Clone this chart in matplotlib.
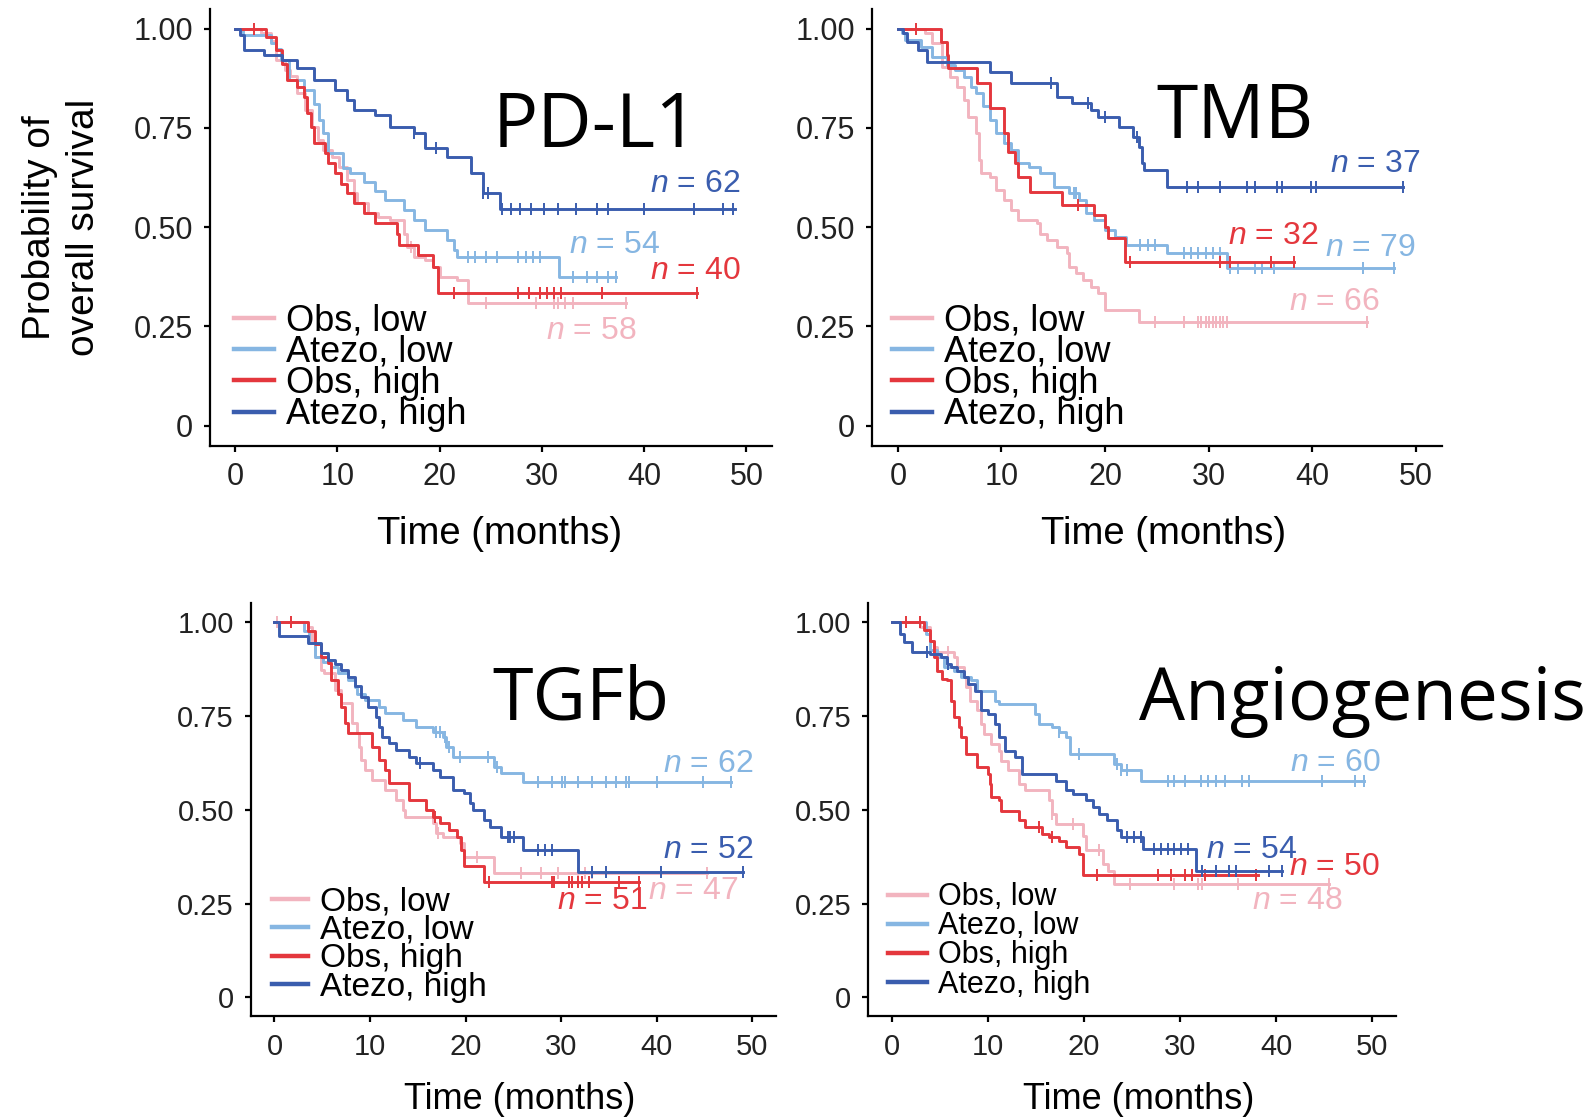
import numpy as np
import matplotlib
matplotlib.use("Agg")
import matplotlib.pyplot as plt
from matplotlib.lines import Line2D

plt.rcParams["font.family"] = ["Liberation Sans", "DejaVu Sans"]
plt.rcParams["mathtext.fontset"] = "custom"
plt.rcParams["mathtext.it"] = "Liberation Sans:italic"
plt.rcParams["mathtext.rm"] = "Liberation Sans"

groups = ["Obs, low", "Atezo, low", "Obs, high", "Atezo, high"]
colors = ["#F2B4BF", "#86B6E2", "#E4373D", "#3A5DAE"]
titles = ["PD-L1", "TMB", "TGFb", "Angiogenesis"]
x_ticks = [0, 10, 20, 30, 40, 50]
y_ticks = [0, 0.25, 0.5, 0.75, 1.0]
y_tick_labels = ["0", "0.25", "0.50", "0.75", "1.00"]

# ---------------- PD-L1 ----------------
pdl1_n = [58, 54, 40, 62]
pdl1_obs_low_t = [0, 2.5, 3.5, 4.0, 4.9, 5.4, 6.0, 6.8, 7.5, 8.1, 8.6, 9.5, 10.2, 10.9, 11.6, 11.9, 13.0, 14.0,
                  15.1, 16.5, 16.8, 17.5, 18.6, 19.3, 20.0, 21.7, 22.8, 38.2]
pdl1_obs_low_s = [1.0, 0.99, 0.97, 0.92, 0.896, 0.88, 0.837, 0.795, 0.753, 0.72, 0.694, 0.678, 0.652, 0.619, 0.585,
                  0.56, 0.535, 0.526, 0.518, 0.484, 0.451, 0.426, 0.417, 0.40, 0.375, 0.367, 0.308, 0.308]
pdl1_obs_low_c = [17.2, 24.5, 29.4, 31.2, 31.6, 32.3, 33.0, 38.2]
pdl1_atezo_low_t = [0, 0.8, 3.5, 4.0, 4.5, 5.3, 6.7, 7.7, 8.2, 8.6, 9.1, 10.5, 11.2, 12.6, 13.7, 14.7, 16.5, 17.5,
                    18.6, 20.7, 21.4, 21.7, 31.7, 37.2]
pdl1_atezo_low_s = [1.0, 0.985, 0.965, 0.95, 0.92, 0.87, 0.845, 0.81, 0.77, 0.736, 0.686, 0.65, 0.636, 0.615, 0.59,
                    0.568, 0.543, 0.518, 0.493, 0.468, 0.442, 0.426, 0.375, 0.375]
pdl1_atezo_low_c = [22.8, 23.5, 24.5, 25.6, 27.7, 28.4, 29.1, 29.8, 33.0, 34.4, 35.4, 36.5, 37.2]
pdl1_obs_high_t = [0, 3.0, 4.0, 4.6, 5.1, 6.0, 6.7, 7.0, 7.4, 7.7, 8.8, 9.1, 9.8, 10.3, 10.9, 11.6, 12.6, 13.7,
                   15.8, 16.0, 17.9, 19.3, 19.8, 45.2]
pdl1_obs_high_s = [1.0, 0.98, 0.946, 0.91, 0.87, 0.854, 0.829, 0.787, 0.753, 0.711, 0.686, 0.661, 0.636, 0.61,
                   0.585, 0.56, 0.535, 0.51, 0.484, 0.455, 0.43, 0.40, 0.335, 0.335]
pdl1_obs_high_c = [1.8, 21.4, 27.7, 28.7, 29.8, 30.5, 31.2, 31.9, 35.9, 45.2]
pdl1_atezo_high_t = [0, 0.5, 0.9, 2.8, 4.6, 6.0, 7.7, 9.8, 10.9, 11.6, 13.7, 15.1, 17.5, 18.6, 20.7, 23.1, 24.2,
                     25.9, 48.9]
pdl1_atezo_high_s = [1.0, 0.984, 0.946, 0.934, 0.921, 0.90, 0.871, 0.846, 0.82, 0.795, 0.783, 0.753, 0.736, 0.699,
                     0.678, 0.636, 0.585, 0.547, 0.547]
pdl1_atezo_high_c = [17.5, 19.6, 24.2, 24.7, 26.1, 27.0, 27.9, 28.9, 30.2, 31.6, 33.3, 35.4, 36.5, 40.0, 44.9,
                     47.7, 48.7]

# ---------------- TMB ----------------
tmb_n = [66, 79, 32, 37]
tmb_obs_low_t = [0, 2.6, 3.3, 4.3, 5.0, 5.7, 6.4, 6.8, 7.5, 7.8, 8.0, 8.85, 9.5, 10.2, 10.9, 11.6, 13.4, 13.7, 14.4,
                 15.4, 16.3, 16.5, 17.2, 17.9, 18.6, 19.3, 20.0, 23.3, 45.3]
tmb_obs_low_s = [1.0, 0.988, 0.963, 0.904, 0.879, 0.854, 0.82, 0.778, 0.736, 0.669, 0.636, 0.627, 0.594, 0.568,
                 0.543, 0.518, 0.51, 0.484, 0.468, 0.451, 0.434, 0.40, 0.384, 0.367, 0.35, 0.333, 0.291, 0.262, 0.262]
tmb_obs_low_c = [24.8, 27.6, 29.0, 29.3, 29.7, 30.0, 30.4, 30.7, 31.1, 31.4, 31.8, 45.3]
tmb_atezo_low_t = [0, 0.35, 0.7, 2.26, 3.3, 4.7, 5.55, 6.4, 7.1, 7.5, 8.2, 8.85, 9.5, 10.2, 10.9, 11.6, 12.7, 13.7,
                   15.1, 16.5, 17.5, 18.2, 18.9, 20.0, 21.0, 22.0, 26.0, 31.8, 47.9]
tmb_atezo_low_s = [1.0, 0.988, 0.971, 0.955, 0.929, 0.908, 0.896, 0.879, 0.854, 0.837, 0.804, 0.77, 0.736, 0.711,
                   0.694, 0.661, 0.652, 0.636, 0.602, 0.585, 0.568, 0.535, 0.518, 0.493, 0.476, 0.455, 0.434, 0.396,
                   0.396]
tmb_atezo_low_c = [17.0, 17.2, 23.4, 24.1, 24.8, 27.6, 28.3, 29.0, 29.7, 30.4, 31.1, 32.1, 32.8, 34.5, 35.2, 36.3,
                   44.9, 47.9]
tmb_obs_high_t = [0, 4.2, 4.7, 4.86, 7.6, 8.85, 10.2, 10.6, 11.3, 11.6, 12.8, 15.8, 18.9, 20.0, 20.3, 21.9, 38.2]
tmb_obs_high_s = [1.0, 0.967, 0.934, 0.90, 0.862, 0.80, 0.736, 0.69, 0.661, 0.627, 0.589, 0.556, 0.53, 0.501, 0.472,
                  0.413, 0.413]
tmb_obs_high_c = [1.7, 17.4, 22.4, 31.1, 32.1, 36.0, 38.2]
tmb_atezo_high_t = [0, 0.5, 0.87, 1.9, 2.8, 8.85, 10.9, 15.4, 16.8, 18.6, 19.3, 21.3, 22.7, 23.3, 23.6, 23.8, 26.0,
                    48.8]
tmb_atezo_high_s = [1.0, 0.988, 0.967, 0.946, 0.917, 0.892, 0.862, 0.829, 0.812, 0.795, 0.778, 0.753, 0.728, 0.703,
                    0.661, 0.644, 0.602, 0.602]
tmb_atezo_high_c = [14.8, 18.4, 20.0, 23.1, 27.9, 29.0, 31.1, 33.7, 34.5, 36.6, 37.1, 39.9, 40.4, 48.8]

# ---------------- TGFb ----------------
tgfb_n = [47, 62, 51, 52]
tgfb_obs_low_t = [0, 3.5, 3.9, 4.2, 4.9, 5.2, 6.3, 7.0, 8.1, 8.6, 8.8, 9.1, 9.5, 10.2, 11.6, 12.7, 13.4, 13.7, 16.6,
                  16.9, 17.6, 19.4, 19.8, 23.0, 45.3]
tgfb_obs_low_s = [1.0, 0.988, 0.95, 0.908, 0.873, 0.864, 0.82, 0.784, 0.731, 0.704, 0.668, 0.633, 0.606, 0.579,
                  0.553, 0.526, 0.5, 0.482, 0.464, 0.437, 0.428, 0.411, 0.375, 0.331, 0.331]
tgfb_obs_low_c = [0.3, 17.1, 21.2, 25.8, 27.9, 29.7, 31.8, 32.5, 33.2, 45.3]
tgfb_atezo_low_t = [0, 3.1, 3.6, 4.2, 5.1, 5.9, 6.65, 7.7, 8.4, 8.6, 9.5, 10.9, 11.6, 13.4, 14.8, 16.6, 17.6, 18.0,
                    18.7, 23.0, 23.7, 26.0, 47.8]
tgfb_atezo_low_s = [1.0, 0.977, 0.944, 0.908, 0.895, 0.882, 0.864, 0.846, 0.828, 0.81, 0.793, 0.775, 0.757, 0.739,
                    0.722, 0.708, 0.695, 0.668, 0.642, 0.615, 0.597, 0.575, 0.575]
tgfb_atezo_low_c = [16.9, 17.3, 17.8, 18.3, 19.4, 22.3, 23.3, 27.6, 29.0, 30.1, 30.4, 31.8, 33.2, 34.7, 35.7, 36.8,
                    37.1, 40.0, 44.9, 47.8]
tgfb_obs_high_t = [0, 3.5, 4.2, 4.9, 5.6, 5.9, 6.65, 7.0, 7.4, 7.7, 10.2, 10.9, 11.6, 11.97, 14.1, 15.9, 16.6, 17.3,
                   18.3, 19.1, 19.5, 19.8, 21.9, 38.2]
tgfb_obs_high_s = [1.0, 0.977, 0.941, 0.908, 0.891, 0.846, 0.81, 0.775, 0.731, 0.704, 0.668, 0.633, 0.606, 0.571,
                   0.526, 0.5, 0.482, 0.464, 0.446, 0.428, 0.393, 0.349, 0.308, 0.308]
tgfb_obs_high_c = [1.7, 16.8, 22.4, 29.0, 29.3, 30.8, 31.1, 31.8, 32.2, 32.9, 36.1, 38.2]
tgfb_atezo_high_t = [0, 0.45, 3.5, 4.9, 5.6, 6.3, 7.0, 7.7, 8.4, 9.1, 9.8, 10.6, 10.9, 11.3, 11.97, 12.7, 14.1,
                     14.8, 16.6, 17.3, 18.7, 19.8, 20.5, 20.8, 21.9, 22.6, 23.7, 26.0, 31.8, 49.0]
tgfb_atezo_high_s = [1.0, 0.962, 0.944, 0.917, 0.899, 0.89, 0.873, 0.855, 0.829, 0.802, 0.775, 0.748, 0.722, 0.695,
                     0.677, 0.659, 0.642, 0.624, 0.606, 0.588, 0.553, 0.544, 0.517, 0.50, 0.473, 0.455, 0.428, 0.393,
                     0.335, 0.335]
tgfb_atezo_high_c = [15.2, 24.4, 24.7, 25.1, 27.6, 28.3, 29.0, 33.2, 34.7, 40.5, 49.0]

# ---------------- Angiogenesis ----------------
angio_n = [48, 60, 50, 54]
angio_obs_low_t = [0, 2.9, 4.0, 4.35, 4.7, 6.5, 6.8, 7.5, 7.7, 8.1, 8.9, 9.3, 9.6, 10.3, 11.1, 11.4, 12.1, 13.2,
                   13.9, 16.4, 16.7, 17.1, 19.9, 20.2, 22.0, 22.5, 23.1, 45.5]
angio_obs_low_s = [1.0, 0.987, 0.951, 0.933, 0.92, 0.907, 0.88, 0.854, 0.827, 0.791, 0.765, 0.729, 0.703, 0.676,
                   0.658, 0.631, 0.605, 0.569, 0.552, 0.525, 0.489, 0.463, 0.43, 0.392, 0.356, 0.338, 0.303, 0.303]
angio_obs_low_c = [5.8, 16.7, 18.8, 21.6, 24.8, 29.4, 31.9, 32.3, 36.0, 45.5]
angio_atezo_low_t = [0, 3.5, 4.0, 4.7, 5.4, 6.5, 7.2, 8.2, 8.9, 10.7, 11.1, 14.9, 15.3, 16.7, 17.4, 18.1, 18.5,
                     23.1, 23.8, 25.9, 49.2]
angio_atezo_low_s = [1.0, 0.969, 0.925, 0.907, 0.88, 0.871, 0.854, 0.845, 0.818, 0.791, 0.782, 0.756, 0.729, 0.72,
                     0.707, 0.694, 0.649, 0.623, 0.605, 0.576, 0.576]
angio_atezo_low_c = [17.4, 19.5, 23.4, 23.8, 24.5, 28.7, 29.4, 30.5, 32.2, 32.9, 33.7, 34.7, 36.5, 37.2, 44.8,
                     48.2, 49.2]
angio_obs_high_t = [0, 3.3, 4.0, 4.35, 4.7, 5.2, 5.76, 6.1, 6.5, 7.0, 7.2, 7.7, 8.8, 8.9, 10.0, 10.2, 10.3, 11.1,
                    11.4, 13.2, 13.9, 15.6, 16.4, 17.4, 18.1, 19.5, 19.9, 38.1]
angio_obs_high_s = [1.0, 0.978, 0.951, 0.907, 0.871, 0.849, 0.845, 0.791, 0.747, 0.72, 0.694, 0.649, 0.64, 0.614,
                    0.596, 0.569, 0.534, 0.525, 0.498, 0.472, 0.454, 0.436, 0.427, 0.418, 0.401, 0.383, 0.325, 0.325]
angio_obs_high_c = [1.5, 2.9, 15.3, 16.7, 21.3, 27.7, 29.1, 30.5, 31.2, 32.6, 37.9]
angio_atezo_high_t = [0, 0.8, 1.2, 2.05, 4.0, 5.05, 5.76, 6.1, 6.8, 7.5, 7.9, 8.6, 9.3, 10.0, 10.7, 11.1, 11.8,
                      12.8, 13.5, 17.1, 18.1, 18.8, 20.2, 20.9, 21.6, 22.4, 23.4, 23.8, 26.1, 31.7, 40.6]
angio_atezo_high_s = [1.0, 0.969, 0.947, 0.92, 0.916, 0.907, 0.889, 0.88, 0.871, 0.854, 0.836, 0.818, 0.765, 0.756,
                      0.729, 0.694, 0.658, 0.64, 0.596, 0.578, 0.552, 0.543, 0.525, 0.507, 0.489, 0.472, 0.445,
                      0.427, 0.396, 0.338, 0.338]
angio_atezo_high_c = [3.6, 5.8, 24.5, 25.2, 25.9, 27.3, 28.0, 28.7, 29.4, 30.1, 30.8, 32.3, 33.7, 35.1, 35.8, 39.3,
                      40.6]

curves = [
    [(pdl1_obs_low_t, pdl1_obs_low_s, pdl1_obs_low_c),
     (pdl1_atezo_low_t, pdl1_atezo_low_s, pdl1_atezo_low_c),
     (pdl1_obs_high_t, pdl1_obs_high_s, pdl1_obs_high_c),
     (pdl1_atezo_high_t, pdl1_atezo_high_s, pdl1_atezo_high_c)],
    [(tmb_obs_low_t, tmb_obs_low_s, tmb_obs_low_c),
     (tmb_atezo_low_t, tmb_atezo_low_s, tmb_atezo_low_c),
     (tmb_obs_high_t, tmb_obs_high_s, tmb_obs_high_c),
     (tmb_atezo_high_t, tmb_atezo_high_s, tmb_atezo_high_c)],
    [(tgfb_obs_low_t, tgfb_obs_low_s, tgfb_obs_low_c),
     (tgfb_atezo_low_t, tgfb_atezo_low_s, tgfb_atezo_low_c),
     (tgfb_obs_high_t, tgfb_obs_high_s, tgfb_obs_high_c),
     (tgfb_atezo_high_t, tgfb_atezo_high_s, tgfb_atezo_high_c)],
    [(angio_obs_low_t, angio_obs_low_s, angio_obs_low_c),
     (angio_atezo_low_t, angio_atezo_low_s, angio_atezo_low_c),
     (angio_obs_high_t, angio_obs_high_s, angio_obs_high_c),
     (angio_atezo_high_t, angio_atezo_high_s, angio_atezo_high_c)],
]
n_counts = [pdl1_n, tmb_n, tgfb_n, angio_n]

# layout per panel: axes rect, font sizes, legend placement, n-label spots, title spot
layout = [
    dict(rect=[0.1316, 0.6015, 0.3530, 0.3906], tick=22, xlab=27.5, xlx=0.516, leg=26, anchor=(0.043, 0.03),
         hl=1.1, ls=-0.1, nxy=[(39.2, 0.238), (41.5, 0.455), (49.4, 0.389), (49.4, 0.609)],
         title=(0.3095, 0.8685), tsize=54),
    dict(rect=[0.5474, 0.6015, 0.3576, 0.3906], tick=22, xlab=27.5, xlx=0.511, leg=26, anchor=(0.035, 0.03),
         hl=1.1, ls=-0.1, nxy=[(46.5, 0.312), (50.0, 0.447), (40.6, 0.478), (50.4, 0.658)],
         title=(0.7257, 0.8766), tsize=54),
    dict(rect=[0.1573, 0.0912, 0.3299, 0.3690], tick=21, xlab=26, xlx=0.5125, leg=24, anchor=(0.04, 0.032),
         hl=1.1, ls=-0.075, nxy=[(48.5, 0.284), (50.1, 0.622), (39.0, 0.257), (50.1, 0.393)],
         title=(0.3089, 0.356), tsize=53),
    dict(rect=[0.5449, 0.0912, 0.3315, 0.3690], tick=21, xlab=26, xlx=0.513, leg=22, anchor=(0.037, 0.04),
         hl=1.3, ls=-0.03, nxy=[(46.9, 0.256), (50.9, 0.626), (50.8, 0.347), (42.2, 0.394)],
         title=(0.715, 0.356), tsize=52.5),
]

fig = plt.figure(figsize=(15.93, 11.18), dpi=100)

for p in range(4):
    lay = layout[p]
    ax = fig.add_axes(lay["rect"])
    for g in range(4):
        t, s, c = curves[p][g]
        t = np.asarray(t)
        s = np.asarray(s)
        ax.step(t, s, where="post", color=colors[g], lw=2.1, zorder=2 + g)
        idx = np.searchsorted(t, c, side="right") - 1
        ax.plot(c, s[idx], ls="none", marker="|", ms=8, mew=1.4, color=colors[g], zorder=2 + g)
        nx, ny = lay["nxy"][g]
        ax.text(nx, ny, f"$n$ = {n_counts[p][g]}", color=colors[g], fontsize=23,
                ha="right", va="center", zorder=10)

    ax.set_xlim(-2.5, 52.5)
    ax.set_ylim(-0.05, 1.05)
    ax.set_xticks(x_ticks)
    ax.set_yticks(y_ticks)
    ax.set_yticklabels(y_tick_labels)
    for side in ["top", "right"]:
        ax.spines[side].set_visible(False)
    for side in ["left", "bottom"]:
        ax.spines[side].set_linewidth(1.6)
    ax.tick_params(axis="both", direction="out", length=4, width=1.6, labelsize=lay["tick"],
                   labelcolor="#222222", pad=8)
    ax.set_xlabel("Time (months)", fontsize=lay["xlab"], va="center")
    ax.xaxis.set_label_coords(lay["xlx"], -0.203)

    handles = [Line2D([], [], color=colors[g], lw=3.2) for g in range(4)]
    ax.legend(handles, groups, loc="lower left", bbox_to_anchor=lay["anchor"], frameon=False,
              fontsize=lay["leg"], handlelength=lay["hl"], handletextpad=0.35, labelspacing=lay["ls"],
              borderpad=0, borderaxespad=0)

    if p == 0:
        ax.set_ylabel("Probability of\noverall survival", fontsize=28, linespacing=1.3, va="center")
        ax.yaxis.set_label_coords(-0.2625, 0.5)

    fig.text(lay["title"][0], lay["title"][1], titles[p], family="Open Sans", fontsize=lay["tsize"],
             ha="left", va="baseline", color="black")

fig.savefig("out.png", dpi=100)
